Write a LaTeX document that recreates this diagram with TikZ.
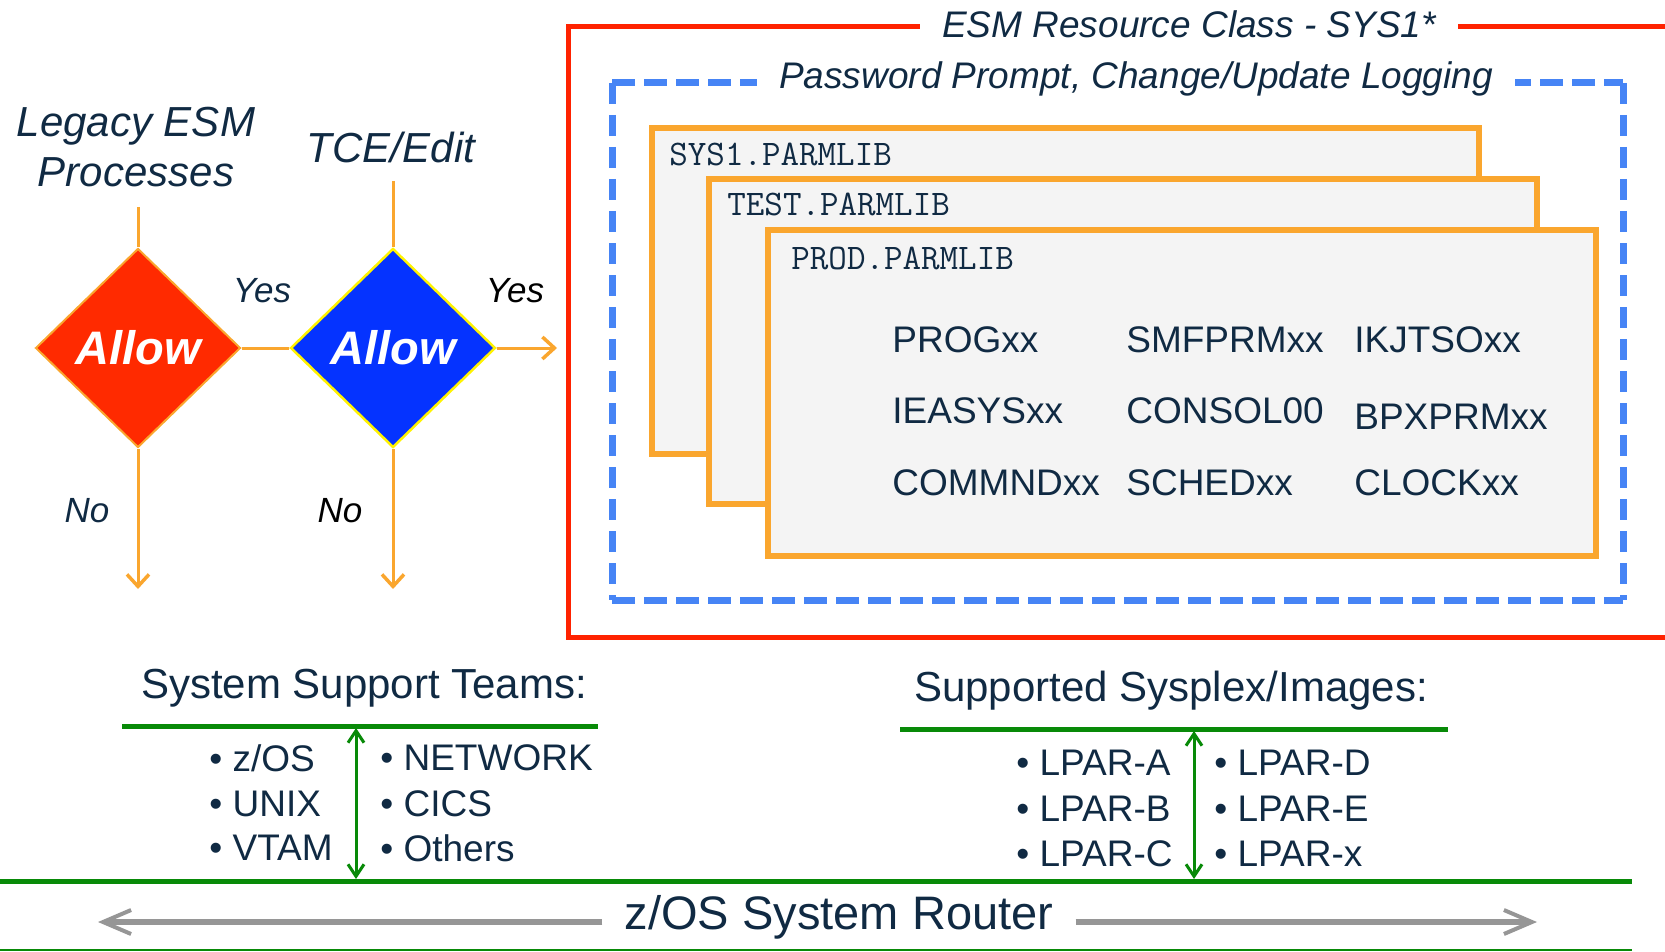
\documentclass[tikz,border=0pt]{standalone}
\usepackage{fontspec}
\setmainfont{Liberation Sans}
\usetikzlibrary{shapes.geometric,arrows.meta}

\definecolor{navy}{RGB}{16,42,67}
\definecolor{alwred}{RGB}{255,42,0}
\definecolor{alwblue}{RGB}{5,51,255}
\definecolor{flowor}{RGB}{250,166,46}
\definecolor{frmred}{RGB}{255,34,0}
\definecolor{frmblue}{RGB}{70,132,245}
\definecolor{boxgray}{RGB}{244,244,244}
\definecolor{teamgreen}{RGB}{8,138,8}
\definecolor{routergray}{RGB}{150,150,150}

\tikzset{every picture/.style={line width=0.75pt}}
\tikzset{
  decide/.style={diamond, minimum width=205pt, minimum height=199pt, inner sep=0pt, text=white, font=\fontsize{47}{56}\selectfont\bfseries\itshape},
  flowlbl/.style={text=navy, font=\fontsize{42}{50}\selectfont\itshape, align=center},
  answer/.style={font=\fontsize{35}{42}\selectfont\itshape},
  flow/.style={draw=flowor, line width=3pt},
  flowarrow/.style={flow, -{Straight Barb[length=12pt,width=22pt,line width=3.5pt]}},
  esmframe/.style={draw=frmred, line width=5pt},
  pwh/.style={draw=frmblue, line width=7pt, dash pattern=on 23pt off 9pt},
  pwv/.style={draw=frmblue, line width=7pt, dash pattern=on 21pt off 11pt},
  frametitle/.style={fill=white, text=navy, font=\fontsize{37}{44}\selectfont\itshape, inner xsep=22pt},
  parmbox/.style={draw=flowor, fill=boxgray, line width=6pt, anchor=north west},
  libname/.style={text=navy, font=\ttfamily\fontsize{36}{43}\selectfont, anchor=west, inner sep=0pt},
  member/.style={text=navy, font=\fontsize{37}{44}\selectfont, anchor=west, inner sep=0pt},
  sectitle/.style={text=navy, font=\fontsize{42}{50}\selectfont},
  greenrule/.style={draw=teamgreen, line width=5pt},
  bullet/.style={text=navy, font=\fontsize{37}{44}\selectfont, anchor=west, inner sep=0pt},
  linkarrow/.style={draw=teamgreen, line width=3pt, {Straight Barb[length=12pt,width=16pt]}-{Straight Barb[length=12pt,width=16pt]}},
  router/.style={text=navy, font=\fontsize{47}{56}\selectfont, inner xsep=22pt},
  routerarrow/.style={draw=routergray, line width=6pt, -{Straight Barb[length=28pt,width=24pt,line width=4pt]}}
}

\begin{document}
\begin{tikzpicture}[x=1pt,y=1pt,yscale=-1,xscale=1]
	\useasboundingbox (0,0) rectangle (1665,952);

	%Flow: decisions
	\node[flowlbl] (legacy) at (136,147) {Legacy ESM\\Processes};
	\node[flowlbl] (tce) at (391,147) {TCE/Edit};
	\node[decide, fill=alwred, draw=flowor, line width=2pt] (alw1) at (138,348) {Allow};
	\node[decide, fill=alwblue, draw=yellow, line width=2.5pt] (alw2) at (393,348) {Allow};

	\coordinate (in1) at (138,207);
	\coordinate (in2) at (393,181);
	\coordinate (no1) at (138,589);
	\coordinate (no2) at (393,589);
	\coordinate (out2) at (557,348);

	%Straight Lines
	\draw[flow] (in1) -- (alw1);
	\draw[flow] (in2) -- (alw2);
	\draw[flow] (alw1) -- (alw2);
	\draw[flowarrow] (alw1) -- (no1);
	\draw[flowarrow] (alw2) -- (no2);
	\draw[flowarrow] (alw2) -- (out2);

	\node[answer, text=navy] (yeslbl1) at (262,291) {Yes};
	\node[answer, text=black] (yeslbl2) at (515,291) {Yes};
	\node[answer, text=navy] (nolbl1) at (87,511) {No};
	\node[answer, text=black] (nolbl2) at (340,511) {No};

	%Frame: ESM resource class
	\draw[esmframe] (1670,27) -- (568,27) -- (568,637) -- (1670,637);
	\node[frametitle] (esm) at (1189,24) {ESM Resource Class - SYS1*};

	%Frame: password prompt (dashed)
	\draw[pwh] (612,83) -- (1623,83);
	\draw[pwh] (612,600) -- (1623,600);
	\draw[pwv] (612,83) -- (612,600);
	\draw[pwv] (1623,83) -- (1623,600);
	\node[frametitle] (pwd) at (1136,79) {Password Prompt, Change/Update Logging};

	%Shape: PARMLIB stack
	\node[parmbox, minimum width=827pt, minimum height=326pt] (sys1) at (649,125) {};
	\node[libname] (sys1lbl) at ([shift={(20,29)}]sys1.north west) {SYS1.PARMLIB};
	\node[parmbox, minimum width=828pt, minimum height=325pt] (test) at (706,176) {};
	\node[libname] (testlbl) at ([shift={(21,28)}]test.north west) {TEST.PARMLIB};
	\node[parmbox, minimum width=828pt, minimum height=326pt] (prod) at (765,227) {};
	\node[libname] (prodlbl) at ([shift={(26,31)}]prod.north west) {PROD.PARMLIB};

	%Members
	\node[member] (prog) at (892,340) {PROGxx};
	\node[member] (smf) at (1126,340) {SMFPRMxx};
	\node[member] (ikj) at (1354,340) {IKJTSOxx};
	\node[member] (iea) at (892,411) {IEASYSxx};
	\node[member] (con) at (1126,411) {CONSOL00};
	\node[member] (bpx) at (1354,417) {BPXPRMxx};
	\node[member] (cmd) at (892,483) {COMMNDxx};
	\node[member] (sch) at (1126,483) {SCHEDxx};
	\node[member] (clk) at (1354,483) {CLOCKxx};

	%Support teams
	\node[sectitle] (teams) at (364,688) {System Support Teams:};
	\draw[greenrule] (122,726) -- (598,726);
	\node[bullet] (zos) at (209,758) {\textbullet\ z/OS};
	\node[bullet] (unix) at (209,804) {\textbullet\ UNIX};
	\node[bullet] (vtam) at (209,848) {\textbullet\ VTAM};
	\node[bullet] (net) at (380,758) {\textbullet\ NETWORK};
	\node[bullet] (cics) at (380,804) {\textbullet\ CICS};
	\node[bullet] (oth) at (380,848) {\textbullet\ Others};
	\coordinate (teamtop) at (356,728);
	\coordinate (teambot) at (356,879);
	\draw[linkarrow] (teamtop) -- (teambot);

	%Sysplex images
	\node[sectitle] (plex) at (1171,691) {Supported Sysplex/Images:};
	\draw[greenrule] (900,729) -- (1448,729);
	\node[bullet] (lpa) at (1016,763) {\textbullet\ LPAR-A};
	\node[bullet] (lpb) at (1016,809) {\textbullet\ LPAR-B};
	\node[bullet] (lpc) at (1016,854) {\textbullet\ LPAR-C};
	\node[bullet] (lpd) at (1214,763) {\textbullet\ LPAR-D};
	\node[bullet] (lpe) at (1214,809) {\textbullet\ LPAR-E};
	\node[bullet] (lpx) at (1214,854) {\textbullet\ LPAR-x};
	\coordinate (plextop) at (1194,731);
	\coordinate (plexbot) at (1194,879);
	\draw[linkarrow] (plextop) -- (plexbot);

	%Router
	\draw[greenrule] (0,881) -- (1632,881);
	\draw[draw=teamgreen, line width=2pt] (0,950) -- (1632,950);
	\node[router] (rtr) at (839,917) {z/OS System Router};
	\coordinate (rtrL) at (98,922);
	\coordinate (rtrR) at (1537,922);
	\draw[routerarrow] (rtr.west |- rtrL) -- (rtrL);
	\draw[routerarrow] (rtr.east |- rtrR) -- (rtrR);

\end{tikzpicture}
\end{document}
